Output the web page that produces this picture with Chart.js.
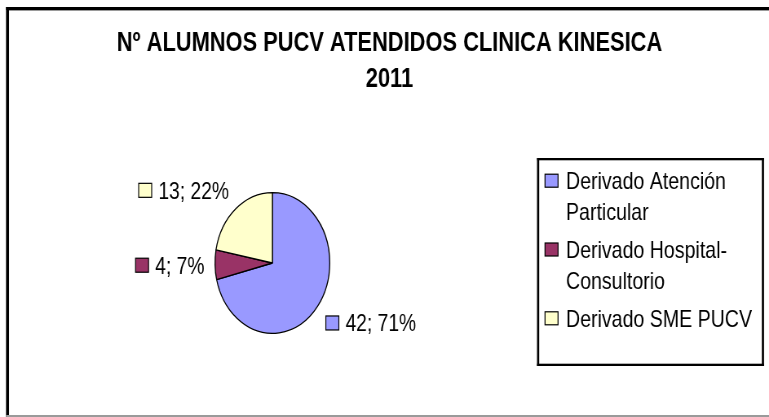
<!DOCTYPE html>
<html><head><meta charset="utf-8">
<script src="https://cdn.jsdelivr.net/npm/chart.js@4"></script>
<style>
html,body{margin:0;padding:0;background:#fff;overflow:hidden;width:769px;height:417px;}
#wrap{position:absolute;left:0;top:0;width:943px;height:417px;transform:scaleX(0.815482);transform-origin:0 0;}
</style></head><body>
<div id="wrap"><canvas id="c"></canvas></div>
<script>
const titleLines = ['Nº ALUMNOS PUCV ATENDIDOS CLINICA KINESICA', '2011'];
const categories = ['Derivado Atención Particular', 'Derivado Hospital-Consultorio', 'Derivado SME PUCV'];
const values = [42, 4, 13];
const colors = ['#9999FF', '#993366', '#FFFFCC'];

const SX = 769 / 943;
const FONT = '"Liberation Sans", Arial, sans-serif';
const total = values.reduce((a, b) => a + b, 0);
const percents = values.map(v => Math.round(v / total * 100));

function wrapText(ctx, text, maxW) {
  const tokens = text.match(/[^\s-]+-?|\s+/g).filter(t => t.trim().length);
  const lines = [];
  let cur = '';
  tokens.forEach(tok => {
    const sep = (cur === '' || cur.endsWith('-')) ? '' : ' ';
    const test = cur + sep + tok;
    if (cur !== '' && ctx.measureText(test).width > maxW) { lines.push(cur); cur = tok; }
    else cur = test;
  });
  if (cur) lines.push(cur);
  return lines;
}

const deco = {
  id: 'deco',
  afterDraw(chart) {
    const ctx = chart.ctx;
    const W = chart.width;
    ctx.save();
    // outer chart frame
    ctx.fillStyle = '#000';
    ctx.fillRect(6 / SX, 7, W, 3);
    ctx.fillRect(6 / SX, 7, 3 / SX, 417);
    ctx.fillStyle = '#9a9a9a';
    ctx.fillRect(9 / SX, 10, W, 1);
    ctx.fillRect(6 / SX, 415, W, 2);

    // title
    ctx.fillStyle = '#000';
    ctx.font = 'bold 26.8px ' + FONT;
    ctx.textAlign = 'center';
    ctx.textBaseline = 'alphabetic';
    const tcx = 389.5 / SX;
    ctx.fillText(titleLines[0], tcx, 50.9);
    ctx.fillText(titleLines[1], tcx, 86.9);

    // legend box
    ctx.fillStyle = '#000';
    ctx.fillRect(537 / SX, 158, (764 - 537) / SX, 2.3);
    ctx.fillRect(537 / SX, 363.7, (764 - 537) / SX, 2.3);
    ctx.fillRect(537 / SX, 158, 2.2 / SX, 208);
    ctx.fillRect(761.8 / SX, 158, 2.2 / SX, 208);

    // legend items
    ctx.font = '24px ' + FONT;
    ctx.textAlign = 'left';
    let base = 189.3;
    categories.forEach((cat, i) => {
      const lines = wrapText(ctx, cat, 235);
      const capC = base - 8.6;
      ctx.fillStyle = colors[i];
      ctx.fillRect(545 / SX, capC - 6.5, 13 / SX, 13);
      ctx.strokeStyle = '#000';
      ctx.lineWidth = 1.2;
      ctx.strokeRect(545 / SX, capC - 6.5, 13 / SX, 13);
      ctx.fillStyle = '#000';
      lines.forEach((ln, j) => ctx.fillText(ln, 566 / SX, base + j * 30.5));
      base += lines.length * 30.5 + 7.8;
    });

    // data labels
    const meta = chart.getDatasetMeta(0);
    const gap = 13;
    const capH = 17;
    ctx.font = '23.6px ' + FONT;
    meta.data.forEach((arc, i) => {
      const p = arc.getProps(['x', 'y', 'startAngle', 'endAngle', 'outerRadius'], true);
      const mid = (p.startAngle + p.endAngle) / 2;
      const c = Math.cos(mid), s = Math.sin(mid);
      const ax = p.x + c * (p.outerRadius + gap);
      const ay = p.y + s * (p.outerRadius + gap);
      const txt = values[i] + '; ' + percents[i] + '%';
      const tw = ctx.measureText(txt).width;
      const keyW = 13 / SX, keyGap = 6.7 / SX;
      const totW = keyW + keyGap + tw;
      let left = c > 0.3 ? ax : (c < -0.3 ? ax - totW : ax - totW / 2);
      let top = s > 0.3 ? ay : (s < -0.3 ? ay - capH : ay - capH / 2);
      const kc = top + capH / 2;
      ctx.fillStyle = colors[i];
      ctx.fillRect(left, kc - 7, keyW, 14);
      ctx.strokeStyle = '#000';
      ctx.lineWidth = 1.2;
      ctx.strokeRect(left, kc - 7, keyW, 14);
      ctx.fillStyle = '#000';
      ctx.textAlign = 'left';
      ctx.fillText(txt, left + keyW + keyGap, top + capH);
    });
    ctx.restore();
  }
};

new Chart(document.getElementById('c'), {
  type: 'pie',
  data: {
    labels: categories,
    datasets: [{
      data: values,
      backgroundColor: colors,
      borderColor: '#000',
      borderWidth: 1.3,
      hoverOffset: 0
    }]
  },
  options: {
    responsive: true,
    maintainAspectRatio: false,
    animation: false,
    events: [],
    layout: { padding: { left: 263, right: 538, top: 192, bottom: 83 } },
    plugins: { legend: { display: false }, title: { display: false }, tooltip: { enabled: false } }
  },
  plugins: [deco]
});
</script>
</body></html>
